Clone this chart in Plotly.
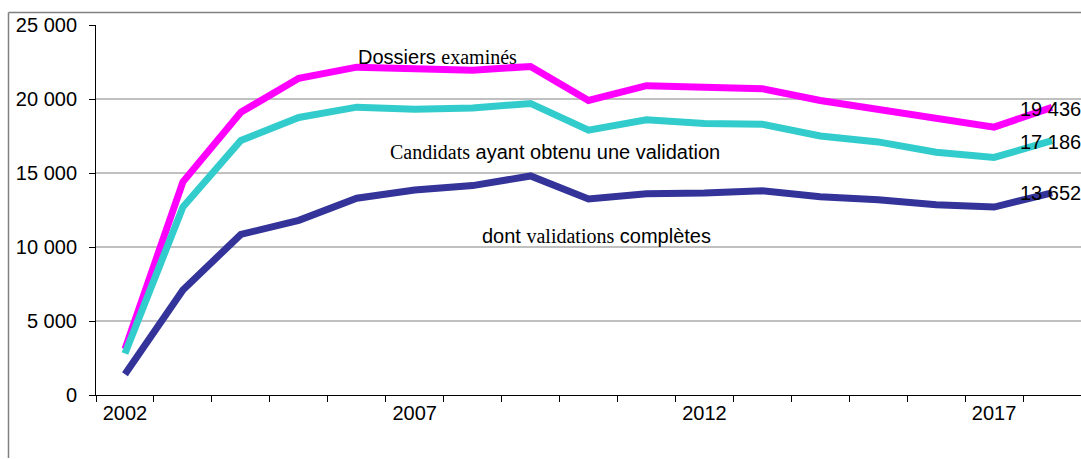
import plotly.graph_objects as go

years = list(range(2002, 2019))
dossiers = [3100, 14400, 19100, 21400, 22150, 22050, 21950, 22200, 19900, 20900, 20800, 20700, 19900, 19300, 18650, 18100, 19436]
candidats = [2800, 12700, 17200, 18750, 19450, 19300, 19400, 19700, 17900, 18600, 18350, 18300, 17500, 17100, 16400, 16050, 17186]
completes = [1400, 7100, 10850, 11800, 13300, 13850, 14150, 14800, 13250, 13600, 13650, 13800, 13400, 13200, 12850, 12700, 13652]

y_ticks = [0, 5000, 10000, 15000, 20000, 25000]
y_labels = ["0", "5 000", "10 000", "15 000", "20 000", "25 000"]
x_label_years = [2002, 2007, 2012, 2017]

SANS = "Liberation Sans, Arial, sans-serif"

fig = go.Figure()
for vals, col in [(dossiers, "#FF00FF"), (candidats, "#33CCCC"), (completes, "#333399")]:
    fig.add_trace(go.Scatter(x=years, y=vals, mode="lines",
                             line=dict(color=col, width=7), showlegend=False,
                             hoverinfo="skip"))

boundaries = [y - 0.5 for y in years] + [years[-1] + 0.5]

W, H = 1081, 459
L, T, B = 96, 25, 64
PW = W - L
PH = H - T - B

fig.update_layout(
    width=W, height=H,
    margin=dict(l=L, r=0, t=T, b=B),
    paper_bgcolor="white", plot_bgcolor="white",
    font=dict(family=SANS, size=20, color="black"),
    xaxis=dict(range=[2001.5, 2018.5], tickvals=x_label_years,
               ticktext=[str(v) for v in x_label_years],
               ticks="", showgrid=False, zeroline=False,
               showline=True, linecolor="black", linewidth=1,
               minor=dict(tickvals=boundaries, ticks="outside", ticklen=6,
                          tickcolor="black", tickwidth=1, showgrid=False),
               tickfont=dict(size=20, family=SANS)),
    yaxis=dict(range=[0, 25000], tickvals=y_ticks, ticktext=y_labels,
               ticks="outside", ticklen=6, tickcolor="black",
               showgrid=True, gridcolor="#C0C0C0", gridwidth=2,
               zeroline=False, showline=True, linecolor="black", linewidth=1,
               ticklabelstandoff=8,
               tickfont=dict(size=20, family=SANS)),
)

# outer chart frame (left and top edges)
fx = -(L - 8.5) / PW
fy = 1 + 12.5 / PH
fig.add_shape(type="line", xref="paper", yref="paper",
              x0=fx, x1=fx, y0=fy, y1=-(B - 1) / PH,
              line=dict(color="#808080", width=1.5), layer="above")
fig.add_shape(type="line", xref="paper", yref="paper",
              x0=fx, x1=1.0, y0=fy, y1=fy,
              line=dict(color="#808080", width=1.5), layer="above")

anns = [
    (2007.4, 22840, 'Dossiers <span style="font-family:Liberation Serif">examinés</span>', "center"),
    (2009.42, 16420, '<span style="font-family:Liberation Serif">Candidats</span> ayant obtenu une validation', "center"),
    (2010.13, 10740, 'dont <span style="font-family:Liberation Serif">validations</span> complètes', "center"),
    (2017.41, 19320, "19 436", "left"),
    (2017.41, 17090, "17 186", "left"),
    (2017.41, 13650, "13 652", "left"),
]
for x, y, t, xa in anns:
    fig.add_annotation(x=x, y=y, text=t, showarrow=False, xanchor=xa,
                       yanchor="middle", font=dict(size=20, family=SANS, color="black"))

fig.write_html("out.html", config={"displayModeBar": False},
               post_script="document.body.style.margin='0';document.body.style.overflow='hidden';")
